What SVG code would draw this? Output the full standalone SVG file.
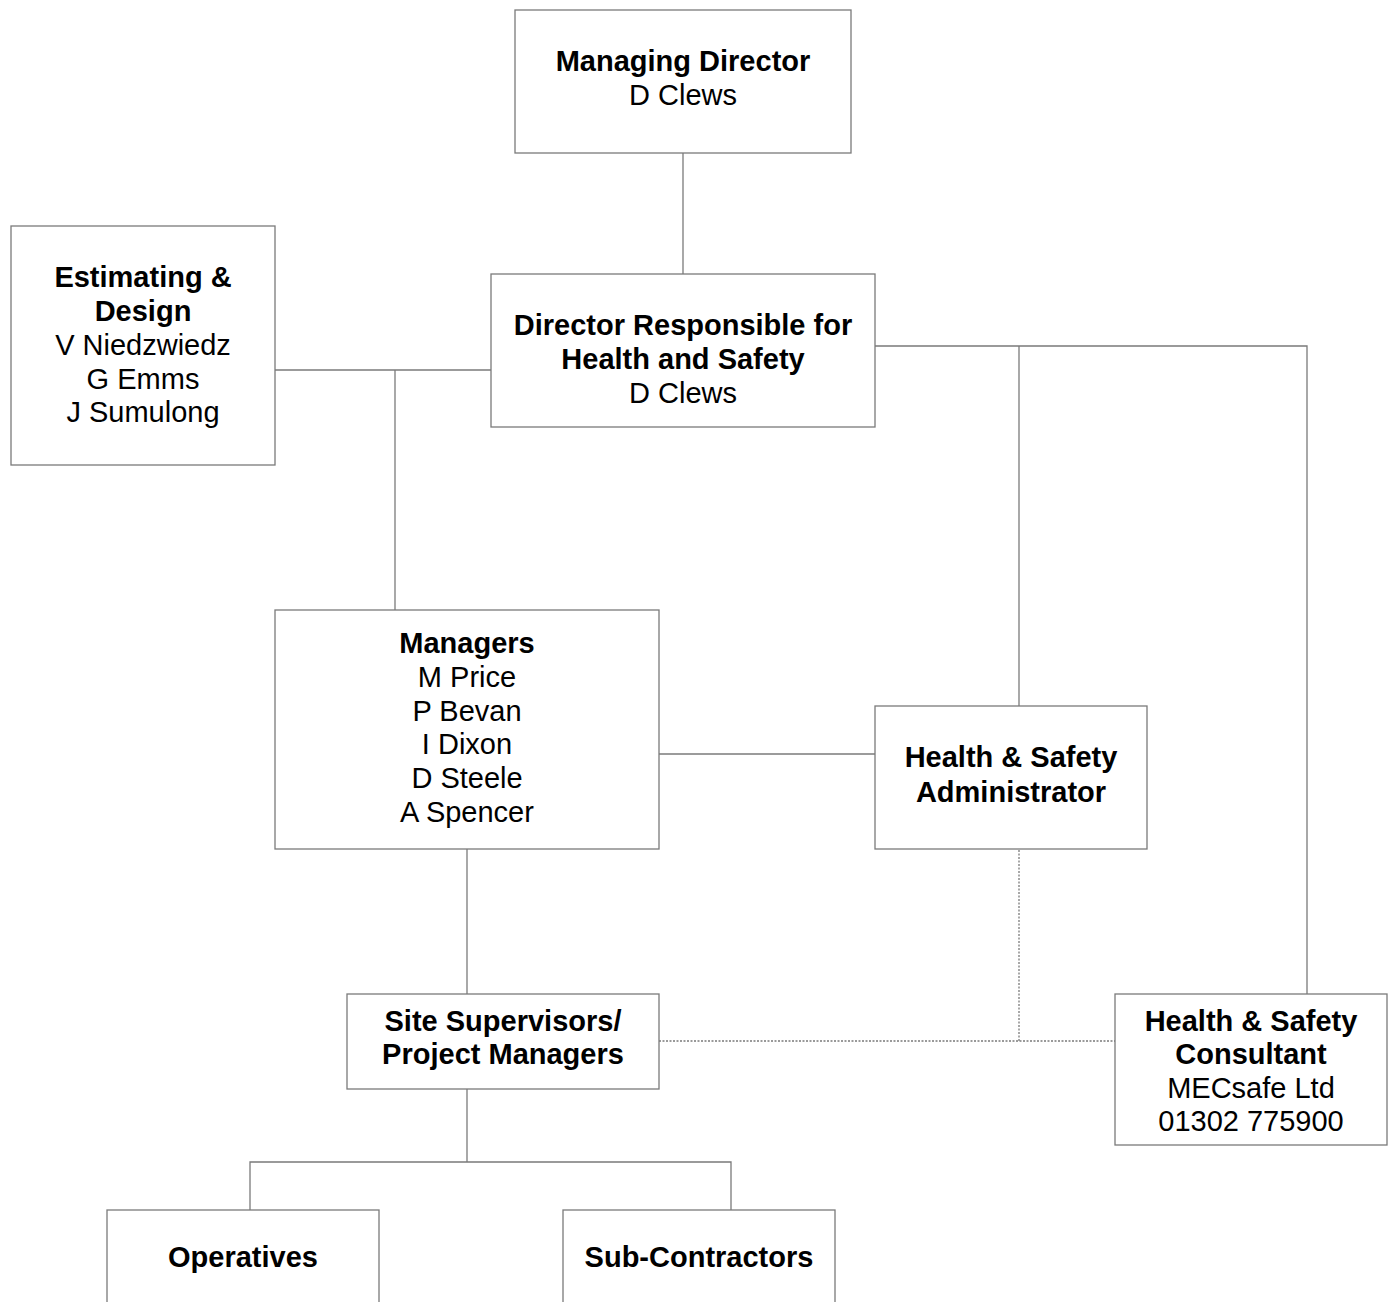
<svg xmlns="http://www.w3.org/2000/svg" width="1391" height="1302" viewBox="0 0 1391 1302">
<style>
.box{fill:#fff;stroke:#7a7a7a;stroke-width:1.3}
.ln{fill:none;stroke:#7a7a7a;stroke-width:1.3}
.dot{fill:none;stroke:#7a7a7a;stroke-width:1.3;stroke-dasharray:2 1.5}
text{font-family:"Liberation Sans",Arial,sans-serif;font-size:29px;fill:#000;text-anchor:middle}
.b{font-weight:bold}
</style>
<rect width="1391" height="1302" fill="#fff"/>
<g id="connectors">
<line class="ln" x1="683" y1="153" x2="683" y2="274"/>
<line class="ln" x1="275" y1="370" x2="491" y2="370"/>
<line class="ln" x1="395" y1="370" x2="395" y2="610"/>
<polyline class="ln" points="875,346 1307,346 1307,994"/>
<line class="ln" x1="1019" y1="346" x2="1019" y2="706"/>
<line class="ln" x1="659" y1="754" x2="875" y2="754"/>
<line class="ln" x1="467" y1="849" x2="467" y2="994"/>
<line class="ln" x1="467" y1="1089" x2="467" y2="1162"/>
<polyline class="ln" points="250,1210 250,1162 731,1162 731,1210"/>
<line class="dot" x1="1019" y1="850" x2="1019" y2="1041"/>
<line class="dot" x1="659" y1="1041" x2="1115" y2="1041"/>
</g>
<g id="managing-director">
<rect class="box" x="515" y="10" width="336" height="143"/>
<text class="b" x="683" y="71">Managing Director</text>
<text x="683" y="105">D Clews</text>
</g>
<g id="director-hs">
<rect class="box" x="491" y="274" width="384" height="153"/>
<text class="b" x="683" y="335">Director Responsible for</text>
<text class="b" x="683" y="369">Health and Safety</text>
<text x="683" y="403">D Clews</text>
</g>
<g id="estimating">
<rect class="box" x="11" y="226" width="264" height="239"/>
<text class="b" x="143" y="287">Estimating &amp;</text>
<text class="b" x="143" y="321">Design</text>
<text x="143" y="355">V Niedzwiedz</text>
<text x="143" y="389">G Emms</text>
<text x="143" y="422">J Sumulong</text>
</g>
<g id="managers">
<rect class="box" x="275" y="610" width="384" height="239"/>
<text class="b" x="467" y="653">Managers</text>
<text x="467" y="687">M Price</text>
<text x="467" y="721">P Bevan</text>
<text x="467" y="754">I Dixon</text>
<text x="467" y="788">D Steele</text>
<text x="467" y="822">A Spencer</text>
</g>
<g id="hs-admin">
<rect class="box" x="875" y="706" width="272" height="143"/>
<text class="b" x="1011" y="767">Health &amp; Safety</text>
<text class="b" x="1011" y="802">Administrator</text>
</g>
<g id="site-supervisors">
<rect class="box" x="347" y="994" width="312" height="95"/>
<text class="b" x="503" y="1031">Site Supervisors/</text>
<text class="b" x="503" y="1064">Project Managers</text>
</g>
<g id="hs-consultant">
<rect class="box" x="1115" y="994" width="272" height="151"/>
<text class="b" x="1251" y="1031">Health &amp; Safety</text>
<text class="b" x="1251" y="1064">Consultant</text>
<text x="1251" y="1098">MECsafe Ltd</text>
<text x="1251" y="1131">01302 775900</text>
</g>
<g id="operatives">
<rect class="box" x="107" y="1210" width="272" height="120"/>
<text class="b" x="243" y="1267">Operatives</text>
</g>
<g id="sub-contractors">
<rect class="box" x="563" y="1210" width="272" height="120"/>
<text class="b" x="699" y="1267">Sub-Contractors</text>
</g>
</svg>
